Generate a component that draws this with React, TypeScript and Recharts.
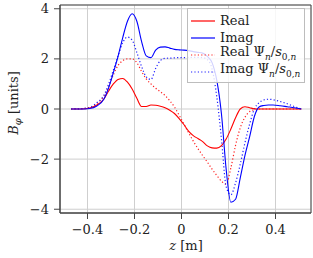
import { LineChart, Line, XAxis, YAxis, CartesianGrid, ReferenceArea } from 'recharts';

const zValues = [
  -0.47, -0.43, -0.39, -0.36, -0.33, -0.31, -0.29, -0.27, -0.25, -0.23, -0.21, -0.19, -0.17, -0.15, -0.13,
  -0.11, -0.09, -0.07, -0.05, -0.03, -0.01, 0.01, 0.03, 0.05, 0.07, 0.09, 0.11, 0.13, 0.15, 0.17, 0.19,
  0.21, 0.23, 0.25, 0.27, 0.29, 0.31, 0.33, 0.35, 0.37, 0.39, 0.42, 0.45, 0.48, 0.51,
];
const realB = [
  0, 0, 0.04, 0.16, 0.4, 0.72, 1.0, 1.18, 1.22, 1.07, 0.8, 0.43, 0.1, 0.1, 0.16,
  0.15, 0.11, 0.05, -0.05, -0.18, -0.38, -0.62, -0.88, -1.06, -1.18, -1.3, -1.47, -1.55, -1.56, -1.46, -1.2,
  -0.8, -0.35, 0.0, 0.09, 0.05, 0.01, 0, 0, 0, 0, 0, 0, 0, 0,
];
const imagB = [
  0, 0, 0.02, 0.12, 0.4, 0.85, 1.45, 2.1, 2.85, 3.5, 3.8, 3.5, 2.7, 2.12, 2.05,
  2.35, 2.47, 2.48, 2.43, 2.38, 2.36, 2.35, 2.33, 2.29, 2.26, 2.23, 2.1, 1.85, 1.15, -0.2, -2.4,
  -3.72, -3.6, -2.75, -1.85, -1.1, -0.3, 0.08, 0.14, 0.16, 0.16, 0.13, 0.09, 0.05, 0,
];
const realPsi = [
  0, 0.01, 0.06, 0.22, 0.52, 0.9, 1.36, 1.74, 1.93, 2.0, 2.0, 1.85, 1.5, 1.2, 1.0,
  0.83, 0.69, 0.54, 0.33, 0.08, -0.25, -0.6, -0.95, -1.28, -1.58, -1.86, -2.12, -2.4, -2.65, -2.88, -3.0,
  -2.35, -1.45, -0.75, -0.33, -0.1, -0.03, 0, 0, 0, 0, 0, 0, 0, 0,
];
const imagPsi = [
  0, 0.01, 0.07, 0.25, 0.55, 1.0, 1.55, 2.12, 2.65, 2.87, 2.75, 2.25, 1.7, 1.28, 1.18,
  1.62, 1.93, 2.02, 2.03, 2.04, 2.05, 2.05, 2.06, 2.06, 2.06, 2.05, 1.97, 1.6, 0.5, -1.2, -3.1,
  -3.42, -2.95, -2.2, -1.35, -0.6, 0.0, 0.25, 0.36, 0.39, 0.37, 0.3, 0.21, 0.1, 0,
];
const xTicks = [-0.4, -0.2, 0, 0.2, 0.4];
const yTicks = [-4, -2, 0, 2, 4];

const data = zValues.map((z, i) => ({
  z,
  real: realB[i],
  imag: imagB[i],
  realPsi: realPsi[i],
  imagPsi: imagPsi[i],
}));

const font = "'DejaVu Serif', 'Liberation Serif', serif";
const X_DOMAIN: [number, number] = [-0.517, 0.551];
const Y_DOMAIN: [number, number] = [-4.15, 4.15];

const fmt = (v: number) => (v < 0 ? '\u2212' + Math.abs(v) : String(v));

function LegendRow({ color, dotted, children }: { color: string; dotted?: boolean; children: any }) {
  return (
    <div style={{ display: 'flex', alignItems: 'center', height: 17 }}>
      <svg width={28} height={10} style={{ marginRight: 3 }}>
        <line x1={2} y1={5} x2={26} y2={5} stroke={color} strokeWidth={1.2}
          strokeDasharray={dotted ? '1.2 2.2' : undefined} />
      </svg>
      <span>{children}</span>
    </div>
  );
}

export default function App() {
  return (
    <div style={{ position: 'absolute', left: 0, top: 0, width: 313, height: 258, background: '#fff', fontFamily: font }}>
      <LineChart width={313} height={258} data={data} margin={{ top: 5, right: 2, left: 0, bottom: 15 }} style={{ fontFamily: font }}>
        <CartesianGrid stroke="#cfcfcf" strokeWidth={1} />
        <XAxis
          dataKey="z"
          type="number"
          domain={X_DOMAIN}
          ticks={xTicks}
          tickFormatter={fmt}
          allowDataOverflow
          height={30}
          tickSize={6}
          tickMargin={6}
          axisLine={{ stroke: '#444' }}
          tickLine={{ stroke: '#444' }}
          tick={{ fill: '#222', fontSize: 13, fontFamily: 'DejaVu Serif' }}
          label={{
            content: () => (
              <text x={186} y={250} textAnchor="middle" fontSize={13} fontFamily="DejaVu Serif" fill="#222">
                <tspan fontStyle="italic">z</tspan> [m]
              </text>
            ),
          }}
        />
        <YAxis
          type="number"
          domain={Y_DOMAIN}
          ticks={yTicks}
          tickFormatter={fmt}
          allowDataOverflow
          width={60}
          tickSize={6}
          tickMargin={5}
          axisLine={{ stroke: '#444' }}
          tickLine={{ stroke: '#444' }}
          tick={{ fill: '#222', fontSize: 13, fontFamily: 'DejaVu Serif' }}
          label={{
            content: () => (
              <text x={18} y={103} textAnchor="middle" transform="rotate(-90 18 103)" fontSize={13} fontFamily="DejaVu Serif" fill="#222">
                <tspan fontStyle="italic">B</tspan>
                <tspan fontStyle="italic" fontSize={10} dy={3}>φ</tspan>
                <tspan dy={-3}> [units]</tspan>
              </text>
            ),
          }}
        />
        <Line type="monotone" dataKey="realPsi" stroke="#ff2020" strokeWidth={1.2} strokeDasharray="1.2 2.2" dot={false} isAnimationActive={false} />
        <Line type="monotone" dataKey="imagPsi" stroke="#2020ff" strokeWidth={1.2} strokeDasharray="1.2 2.2" dot={false} isAnimationActive={false} />
        <Line type="monotone" dataKey="real" stroke="#ff0000" strokeWidth={1.1} dot={false} isAnimationActive={false} />
        <Line type="monotone" dataKey="imag" stroke="#0000ff" strokeWidth={1.1} dot={false} isAnimationActive={false} />
        <ReferenceArea x1={X_DOMAIN[0]} x2={X_DOMAIN[1]} y1={Y_DOMAIN[0]} y2={Y_DOMAIN[1]} fill="none" stroke="#444" strokeWidth={1} ifOverflow="visible" />
      </LineChart>
      <div
        style={{
          position: 'absolute', left: 187, top: 8, width: 118, height: 75,
          background: 'rgba(255,255,255,0.82)', border: '1px solid #bdbdbd',
          fontSize: 13, color: '#222', padding: '3px 0 0 1px', boxSizing: 'border-box', lineHeight: '17px',
          fontFamily: font, whiteSpace: 'nowrap',
        }}
      >
        <LegendRow color="#ff0000">Real</LegendRow>
        <LegendRow color="#0000ff">Imag</LegendRow>
        <LegendRow color="#ff2020" dotted>
          Real Ψ<sub style={{ fontSize: 9, fontStyle: 'italic' }}>n</sub>/<i>s</i><sub style={{ fontSize: 9 }}>0,<i>n</i></sub>
        </LegendRow>
        <LegendRow color="#2020ff" dotted>
          Imag Ψ<sub style={{ fontSize: 9, fontStyle: 'italic' }}>n</sub>/<i>s</i><sub style={{ fontSize: 9 }}>0,<i>n</i></sub>
        </LegendRow>
      </div>
    </div>
  );
}
